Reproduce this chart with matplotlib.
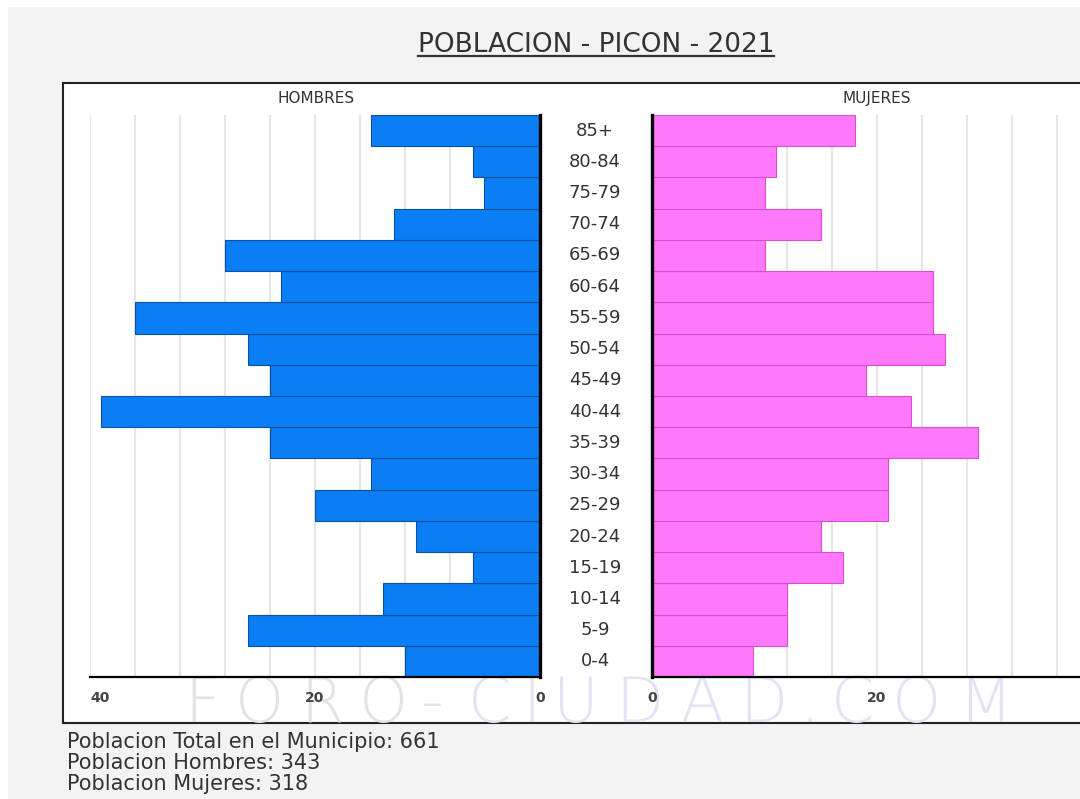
import matplotlib.pyplot as plt
import matplotlib.transforms as mtransforms
from matplotlib.patches import Rectangle
from matplotlib.lines import Line2D
import numpy as np

# age groups, bottom to top
ages = ["0-4", "5-9", "10-14", "15-19", "20-24", "25-29", "30-34", "35-39", "40-44",
        "45-49", "50-54", "55-59", "60-64", "65-69", "70-74", "75-79", "80-84", "85+"]
hombres = [12, 26, 14, 6, 11, 20, 15, 24, 39, 24, 26, 36, 23, 28, 13, 5, 6, 15]
mujeres = [9, 12, 12, 17, 15, 21, 21, 29, 23, 19, 26, 25, 25, 10, 15, 10, 11, 18]
total_text = ["Poblacion Total en el Municipio: 661",
              "Poblacion Hombres: 343",
              "Poblacion Mujeres: 318"]
xticks = [40, 20, 0]

W, H = 1080, 799
fig = plt.figure(figsize=(W / 100, H / 100), dpi=100, facecolor="#f3f3f3")
TXT = "#333333"

# white strip at the very top and left
fig.patches.append(Rectangle((0, 1 - 7 / H), 1, 7 / H, transform=fig.transFigure,
                             facecolor="white", edgecolor="none", zorder=-2))
fig.patches.append(Rectangle((0, 0), 8 / W, 1, transform=fig.transFigure,
                             facecolor="white", edgecolor="none", zorder=-2))
# white panel with dark border
fig.patches.append(Rectangle((63 / W, (H - 723) / H), (1095 - 63) / W, (723 - 83) / H,
                             transform=fig.transFigure, facecolor="white",
                             edgecolor="#222222", lw=1.5, zorder=-1))

ab = (H - 677) / H
ah = (677 - 115) / H
axL = fig.add_axes([90 / W, ab, 450 / W, ah])
axR = fig.add_axes([652 / W, ab, 450 / W, ah])

y = np.arange(len(ages))
axL.barh(y, hombres, height=1.0, color="#0a7ef4", edgecolor="#0c4f9c", lw=0.8, zorder=3)
axR.barh(y, mujeres, height=1.0, color="#ff79fa", edgecolor="#d64fd2", lw=0.8, zorder=3)

for ax in (axL, axR):
    ax.set_facecolor("none")
    ax.set_zorder(1)
    ax.set_xlim(0, 40)
    ax.set_ylim(-0.5, len(ages) - 0.5)
    ax.set_yticks([])
    for g in range(4, 41, 4):
        ax.axvline(g, color="#e6e6e6", lw=1.6, zorder=1)
    ax.spines["top"].set_visible(False)
    ax.spines["bottom"].set_linewidth(1.6)
    ax.spines["bottom"].set_zorder(4)
    ax.set_xticks(xticks)
    ax.set_xticklabels([str(t) for t in xticks], fontsize=10, fontweight="bold", color="#444444")
    ax.tick_params(axis="x", length=0, pad=10)

axL.invert_xaxis()
axL.spines["left"].set_visible(False)
axL.spines["right"].set_linewidth(2.4)
axL.spines["right"].set_zorder(4)
axR.spines["right"].set_visible(False)
axR.spines["left"].set_linewidth(2.4)
axR.spines["left"].set_zorder(4)
axL.get_xticklabels()[0].set_ha("left")

# age labels between the two halves
trans = mtransforms.blended_transform_factory(fig.transFigure, axR.transData)
for i, lab in enumerate(ages):
    fig.text(595 / W, i, lab, transform=trans, ha="center", va="center",
             fontsize=13, color=TXT)

fig.text(316 / W, 1 - 103 / H, "HOMBRES", ha="center", va="baseline", fontsize=11, color=TXT)
fig.text(877 / W, 1 - 103 / H, "MUJERES", ha="center", va="baseline", fontsize=11, color=TXT)

title = fig.text(596 / W, 1 - 52 / H, "POBLACION - PICON - 2021", ha="center", va="baseline",
                 fontsize=19, color=TXT)

for k, s in enumerate(total_text):
    fig.text(67 / W, 1 - (748 + 21 * k) / H, s, ha="left", va="baseline",
             fontsize=15, color=TXT)

# watermark, letters spread out so it spans the same width as the original
renderer = fig.canvas.get_renderer()
for word, x0, x1, col in [("FORO-", 178, 447, "#e3e3e3"), ("CIUDAD.COM", 460, 1023, "#e3e3f4")]:
    chars = []
    for ch in word:
        t = fig.text(0, 1 - 722 / H, ch, fontsize=45, fontweight="light", color=col,
                     ha="center", va="baseline", zorder=-0.5)
        chars.append((t, t.get_window_extent(renderer).width))
    total = sum(w for _, w in chars)
    sx = (x1 - x0) / total
    cum = 0
    for t, w in chars:
        t.set_x((x0 + sx * (cum + w / 2)) / W)
        cum += w

fig.canvas.draw()
bb = title.get_window_extent()
fig.lines.append(Line2D([bb.x0 / W, bb.x1 / W], [1 - 56 / H, 1 - 56 / H],
                        transform=fig.transFigure, color=TXT, lw=1.6))

fig.savefig("out.png", dpi=100, facecolor=fig.get_facecolor())
